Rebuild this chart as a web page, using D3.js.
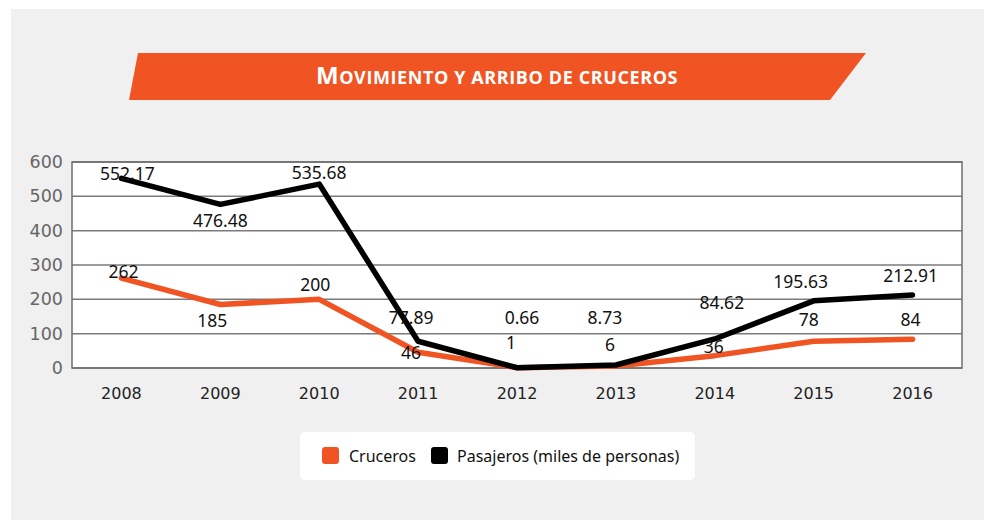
<!DOCTYPE html>
<html>
<head>
<meta charset="utf-8">
<script src="https://cdn.jsdelivr.net/npm/d3@7"></script>
<style>
  html, body { margin: 0; padding: 0; background: #ffffff; }
  svg { display: block; }
</style>
</head>
<body>
<svg id="chart" width="984" height="520"></svg>
<script>
// ---- data ----
const years = ["2008","2009","2010","2011","2012","2013","2014","2015","2016"];
const cruceros = [262, 185, 200, 46, 1, 6, 36, 78, 84];
const pasajeros = [552.17, 476.48, 535.68, 77.89, 0.66, 8.73, 84.62, 195.63, 212.91];
const yTicks = [0, 100, 200, 300, 400, 500, 600];
const seriesNames = ["Cruceros", "Pasajeros (miles de personas)"];
const title = "Movimiento y arribo de cruceros";

// label placement offsets (layout only)
const crucerosLabelOffsets = [[2,-6],[-8,16],[-4,-14],[-7,1],[-6,-25],[-6,-21],[-1,-9],[-5,-21],[-2,-19]];
const pasajerosLabelOffsets = [[6,-5],[0,16],[0,-11],[-7,-23],[5,-50],[-11,-47],[7,-36],[-13,-19],[-2,-19]];

const ORANGE = "#F05423";
const svg = d3.select("#chart");

// background panel
svg.append("rect").attr("x", 11).attr("y", 9).attr("width", 984 - 11).attr("height", 520 - 9).attr("fill", "#f0f0f0");

// title banner
const banner = [[138,53],[866,53],[830,100],[129,100]];
svg.append("path").attr("d", d3.line()(banner) + "Z").attr("fill", ORANGE);
const tt = svg.append("text")
  .attr("x", 497).attr("y", 84)
  .attr("text-anchor", "middle")
  .attr("font-family", "'Open Sans', 'Noto Sans', sans-serif")
  .attr("font-weight", "bold")
  .attr("letter-spacing", 0.6)
  .attr("fill", "#ffffff");
tt.append("tspan").attr("font-size", 24).text(title.charAt(0).toUpperCase());
tt.append("tspan").attr("font-size", 18).text(title.slice(1).toUpperCase());

// plot area
const L = 72, R = 962, T = 162, B = 368;
const x = d3.scaleBand().domain(years).range([L, R]);
const y = d3.scaleLinear().domain([0, 600]).range([B, T]);

svg.append("rect").attr("x", L).attr("y", T).attr("width", R - L).attr("height", B - T).attr("fill", "#ffffff");

// gridlines
svg.append("g")
  .selectAll("line").data(yTicks).join("line")
  .attr("x1", L).attr("x2", R)
  .attr("y1", d => y(d)).attr("y2", d => y(d))
  .attr("stroke", "#7a7a7a").attr("stroke-width", 1.5);

svg.append("rect").attr("x", L).attr("y", T).attr("width", R - L).attr("height", B - T)
  .attr("fill", "none").attr("stroke", "#6e6e6e").attr("stroke-width", 1.5);

// y axis
const yAxis = svg.append("g").attr("transform", `translate(${L},0)`)
  .call(d3.axisLeft(y).tickValues(yTicks).tickSize(0).tickPadding(9));
yAxis.select(".domain").remove();
yAxis.selectAll("text")
  .attr("font-family", "'DejaVu Sans', sans-serif").attr("font-size", 17.5)
  .attr("fill", "#666666");

// x axis
const xAxis = svg.append("g").attr("transform", `translate(0,${B})`)
  .call(d3.axisBottom(x).tickSize(0).tickPadding(20));
xAxis.select(".domain").remove();
xAxis.selectAll("text")
  .attr("font-family", "'DejaVu Sans', sans-serif").attr("font-size", 16)
  .attr("fill", "#222222");

const cx = d => x(d) + x.bandwidth() / 2;

// lines
const line = d3.line().x(d => cx(d.year)).y(d => y(d.v));
const cData = years.map((yr, i) => ({ year: yr, v: cruceros[i] }));
const pData = years.map((yr, i) => ({ year: yr, v: pasajeros[i] }));

svg.append("path").datum(cData).attr("d", line)
  .attr("fill", "none").attr("stroke", ORANGE).attr("stroke-width", 5.5)
  .attr("stroke-linecap", "round").attr("stroke-linejoin", "round");
svg.append("path").datum(pData).attr("d", line)
  .attr("fill", "none").attr("stroke", "#000000").attr("stroke-width", 5.5)
  .attr("stroke-linecap", "round").attr("stroke-linejoin", "round");

// labels
function labels(data, offsets) {
  svg.append("g").selectAll("text").data(data).join("text")
    .attr("x", (d, i) => cx(d.year) + offsets[i][0])
    .attr("y", (d, i) => y(d.v) + offsets[i][1])
    .attr("text-anchor", "middle").attr("dy", "0.35em")
    .attr("font-family", "'Noto Sans', sans-serif").attr("font-size", 17.5)
    .attr("fill", "#111111")
    .text(d => String(d.v));
}
labels(pData, pasajerosLabelOffsets);
labels(cData, crucerosLabelOffsets);

// legend
svg.append("rect").attr("x", 300).attr("y", 432).attr("width", 395).attr("height", 48)
  .attr("rx", 5).attr("fill", "#ffffff");
const legendItems = [
  { name: seriesNames[0], color: ORANGE, sx: 322, tx: 349 },
  { name: seriesNames[1], color: "#000000", sx: 431, tx: 457 }
];
const lg = svg.append("g").selectAll("g").data(legendItems).join("g");
lg.append("rect").attr("x", d => d.sx).attr("y", 447).attr("width", 17).attr("height", 17)
  .attr("rx", 3).attr("fill", d => d.color);
lg.append("text").attr("x", d => d.tx).attr("y", 456).attr("dy", "0.35em")
  .attr("font-family", "'Noto Sans', sans-serif").attr("font-size", 16)
  .attr("fill", "#111111")
  .text(d => d.name);
</script>
</body>
</html>
